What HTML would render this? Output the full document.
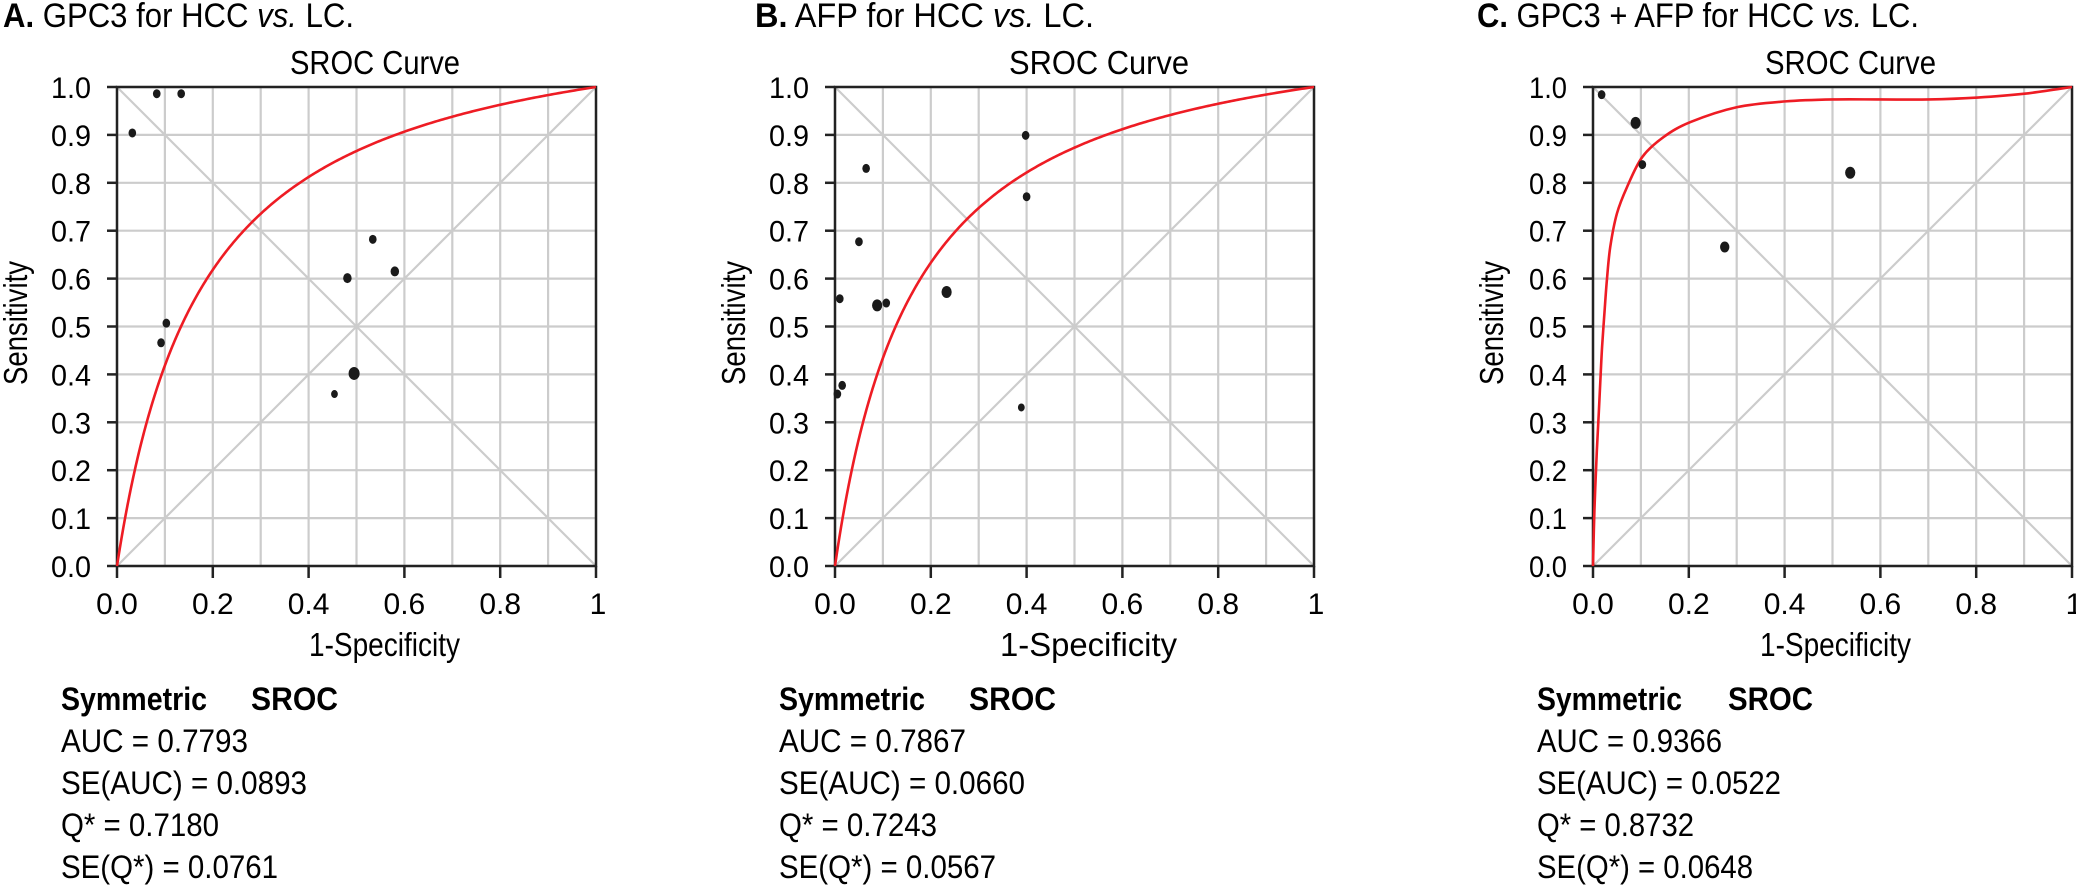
<!DOCTYPE html>
<html><head><meta charset="utf-8">
<style>
html,body{margin:0;padding:0;background:#fff;}
svg{display:block;font-family:"Liberation Sans",Arial,sans-serif;}
</style></head>
<body>
<svg id="fig" width="2076" height="889" viewBox="0 0 2076 889" xmlns="http://www.w3.org/2000/svg"></svg>
<script>
// ---- data ----
const tickValues = [0,0.1,0.2,0.3,0.4,0.5,0.6,0.7,0.8,0.9,1.0];
const yTickLabels = ["0.0","0.1","0.2","0.3","0.4","0.5","0.6","0.7","0.8","0.9","1.0"];
const xTickValues = [0,0.2,0.4,0.6,0.8,1];
const xTickLabels = ["0.0","0.2","0.4","0.6","0.8","1"];

const aFpr  = [0.083,0.134,0.032,0.103,0.092,0.481,0.534,0.580,0.495,0.454];
const aSens = [0.986,0.986,0.904,0.507,0.466,0.601,0.682,0.615,0.402,0.359];
const aSize = [4.5,4.5,4.5,4.5,4.5,5,4.5,5,6.5,4];

const bFpr  = [0.065,0.398,0.400,0.050,0.010,0.088,0.107,0.233,0.015,0.005,0.389];
const bSens = [0.830,0.899,0.771,0.677,0.558,0.544,0.549,0.572,0.377,0.359,0.331];
const bSize = [4.5,4.5,4.5,4.5,4.5,6,4.5,6,4.5,4.5,4];

const cFpr  = [0.018,0.089,0.103,0.275,0.537];
const cSens = [0.984,0.925,0.838,0.666,0.821];
const cSize = [4.5,6,4.5,5.5,6];

// symmetric SROC Q* values (A, B)
const aQstar = 0.7180;
const bQstar = 0.7243;
const cCurveX = [0,0.003,0.008,0.012,0.016,0.019,0.024,0.029,0.036,0.050,0.071,0.103,0.148,0.204,0.301,0.402,0.501,0.600,0.702,0.803,0.901,1];
const cCurveY = [0,0.117,0.240,0.318,0.400,0.458,0.530,0.597,0.666,0.736,0.791,0.854,0.896,0.927,0.958,0.970,0.974,0.974,0.974,0.978,0.986,1];

const statsA = ["AUC = 0.7793","SE(AUC) = 0.0893","Q* = 0.7180","SE(Q*) = 0.0761"];
const statsB = ["AUC = 0.7867","SE(AUC) = 0.0660","Q* = 0.7243","SE(Q*) = 0.0567"];
const statsC = ["AUC = 0.9366","SE(AUC) = 0.0522","Q* = 0.8732","SE(Q*) = 0.0648"];

// ---- drawing ----
const NS="http://www.w3.org/2000/svg";
const svg=document.getElementById('fig');
function mk(tag,attrs,parent){const e=document.createElementNS(NS,tag);for(const k in attrs)e.setAttribute(k,attrs[k]);(parent||svg).appendChild(e);return e;}
function txt(s,attrs,parent){const e=mk('text',attrs,parent);e.textContent=s;return e;}

function symCurve(q){const a=2*Math.log(q/(1-q));const xs=[],ys=[];for(let i=0;i<=400;i++){const f=Math.pow(i/400,2);xs.push(f);ys.push(f<=0?0:(f>=1?1:1/(1+Math.exp(-a)*(1-f)/f)));}return [xs,ys];}

function smoothPath(P){
  if(P.length<3){return P.map((p,i)=>(i?'L':'M')+p[0]+' '+p[1]).join('');}
  let d='M'+P[0][0].toFixed(2)+' '+P[0][1].toFixed(2);
  for(let i=0;i<P.length-1;i++){
    const p0=P[Math.max(0,i-1)],p1=P[i],p2=P[i+1],p3=P[Math.min(P.length-1,i+2)];
    const c1=[p1[0]+(p2[0]-p0[0])/6,p1[1]+(p2[1]-p0[1])/6];
    const c2=[p2[0]-(p3[0]-p1[0])/6,p2[1]-(p3[1]-p1[1])/6];
    d+='C'+c1[0].toFixed(2)+' '+c1[1].toFixed(2)+' '+c2[0].toFixed(2)+' '+c2[1].toFixed(2)+' '+p2[0].toFixed(2)+' '+p2[1].toFixed(2);
  }
  return d;
}

function panel(cfg){
  const g=mk('g',{});
  
  
  const L=cfg.left,R=cfg.left+479,T=87,B=566;
  const sx=v=>L+v*(R-L), sy=v=>B-v*(B-T);
  const t=mk('text',{x:cfg.titleX,y:27,'font-size':34,textLength:cfg.titleW,lengthAdjust:'spacingAndGlyphs'},g);
  
  
  const b1=document.createElementNS(NS,'tspan');b1.setAttribute('font-weight','bold');b1.textContent=cfg.letter+'.';t.appendChild(b1);
  const t2=document.createElementNS(NS,'tspan');t2.textContent=' '+cfg.marker+' for HCC ';t.appendChild(t2);
  const t3=document.createElementNS(NS,'tspan');t3.setAttribute('font-style','italic');t3.textContent='vs.';t.appendChild(t3);
  const t4=document.createElementNS(NS,'tspan');t4.textContent=' LC.';t.appendChild(t4);
  const st=txt('SROC Curve',{x:cfg.srocX,y:74,'font-size':33,textLength:cfg.srocW,lengthAdjust:'spacingAndGlyphs'},g);
  
  
  const grid=mk('g',{stroke:'#cccccc','stroke-width':2.2},g);
  
  
  tickValues.forEach(v=>{
    mk('line',{x1:L,x2:R,y1:sy(v),y2:sy(v)},grid);
    mk('line',{x1:sx(v),x2:sx(v),y1:T,y2:B},grid);
  });
  const d1=mk('line',{x1:sx(0),y1:sy(0),x2:sx(1),y2:sy(1)},grid);
  
  
  const d2=mk('line',{x1:sx(0),y1:sy(1),x2:sx(1),y2:sy(0)},grid);
  
  
  const fr=mk('rect',{x:L,y:T,width:R-L,height:B-T,fill:'none',stroke:'#222','stroke-width':2.5},g);
  
  
  tickValues.forEach((v,i)=>{
    mk('line',{x1:L-10,x2:L,y1:sy(v),y2:sy(v),stroke:'#222','stroke-width':2.5},g);
    const e=txt(yTickLabels[i],{x:L-26,y:sy(v)+11,'font-size':30,'text-anchor':'end',textLength:cfg.tickW,lengthAdjust:'spacingAndGlyphs'},g);
    
    
  });
  xTickValues.forEach((v,i)=>{
    mk('line',{x1:sx(v),x2:sx(v),y1:B,y2:B+12,stroke:'#222','stroke-width':2.5},g);
    const e=txt(xTickLabels[i],{x:sx(v)+(i===5?2:0),y:614,'font-size':30,'text-anchor':'middle'},g);
    
    
  });
  const xt=txt('1-Specificity',{x:cfg.xtX,y:656,'font-size':33,textLength:cfg.xtW,lengthAdjust:'spacingAndGlyphs'},g);
  
  
  const yt=txt('Sensitivity',{x:0,y:0,'font-size':33,'text-anchor':'middle',textLength:124,lengthAdjust:'spacingAndGlyphs',transform:`translate(${cfg.ytX},323) rotate(-90)`},g);
  
  
  const xs=cfg.curveX, ys=cfg.curveY;
  let d;
  if(cfg.smooth){
    d=smoothPath(xs.map((x,i)=>[sx(x),sy(ys[i])]));
  } else {
    d='';
    xs.forEach((x,i)=>{d+=(i?'L':'M')+sx(x).toFixed(2)+' '+sy(ys[i]).toFixed(2);});
  }
  const c=mk('path',{d:d,fill:'none',stroke:'#ee1c24','stroke-width':2.6,'stroke-linejoin':'round'},g);
  
  
  cfg.fpr.forEach((x,i)=>{
    const p=mk('ellipse',{cx:sx(x),cy:sy(cfg.sens[i]),rx:cfg.size[i]*0.85,ry:cfg.size[i],fill:'#1a1a1a'},g);
    
    
  });
  const s0=txt('Symmetric',{x:cfg.statX,y:710,'font-size':32,'font-weight':'bold',textLength:cfg.symW,lengthAdjust:'spacingAndGlyphs'},g);
  
  
  const s1=txt('SROC',{x:cfg.srocHX,y:710,'font-size':32,'font-weight':'bold',textLength:cfg.srocHW,lengthAdjust:'spacingAndGlyphs'},g);
  
  
  const ys2=[752,794,836,878];
  cfg.stats.forEach((s,i)=>{
    const e=txt(s,{x:cfg.statX,y:ys2[i],'font-size':32,textLength:cfg.statW[i],lengthAdjust:'spacingAndGlyphs'},g);
    
    
  });
}
const ca=symCurve(aQstar), cb=symCurve(bQstar);
panel({id:'gpc3',letter:'A',marker:'GPC3',left:117,titleX:3,titleW:351,srocX:290,srocW:170,xtX:309,xtW:151,ytX:27,tickW:40,
  curveX:ca[0],curveY:ca[1],fpr:aFpr,sens:aSens,size:aSize,statX:61,symW:146,srocHX:251,srocHW:87,stats:statsA,statW:[187,246,158,217]});
panel({id:'afp',letter:'B',marker:'AFP',left:835,titleX:755,titleW:339,srocX:1009,srocW:180,xtX:1000,xtW:177,ytX:745,tickW:40,
  curveX:cb[0],curveY:cb[1],fpr:bFpr,sens:bSens,size:bSize,statX:779,symW:146,srocHX:969,srocHW:87,stats:statsB,statW:[187,246,158,217]});
panel({id:'combined',letter:'C',marker:'GPC3 + AFP',left:1593,titleX:1477,titleW:442,srocX:1765,srocW:171,xtX:1760,xtW:151,ytX:1503,tickW:38,smooth:true,
  curveX:cCurveX,curveY:cCurveY,fpr:cFpr,sens:cSens,size:cSize,statX:1537,symW:145,srocHX:1728,srocHW:85,stats:statsC,statW:[185,244,157,216]});
</script>
</body></html>
